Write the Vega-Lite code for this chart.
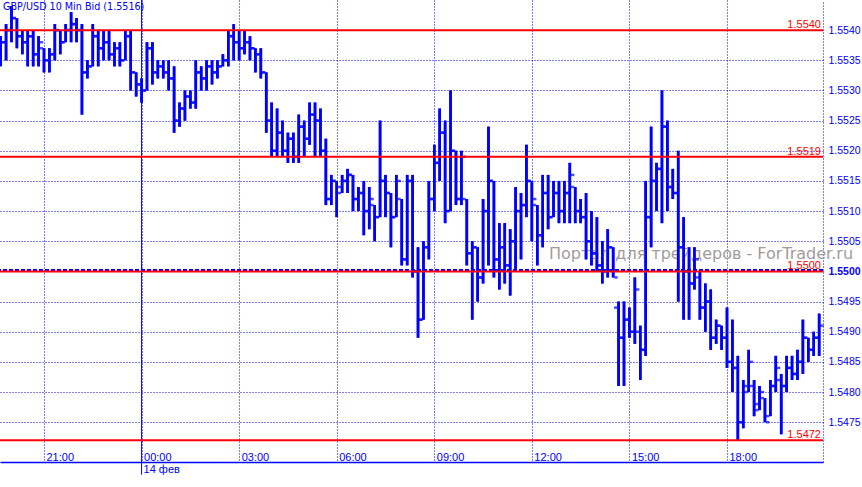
{
  "$schema": "https://vega.github.io/schema/vega-lite/v6.json",
  "width": 823,
  "height": 462,
  "autosize": "none",
  "padding": {"left": 0, "top": 0, "right": 39, "bottom": 25},
  "background": "white",
  "config": {
    "view": {"stroke": null},
    "axis": {"labelOverlap": false, "labelSeparation": 0, "labelBound": false, "labelFlush": false}
  },
  "datasets": {
    "bars": [
{"t":"2011-02-13T19:40","o":1.5535,"h":1.5539,"l":1.5534,"c":1.5538},
{"t":"2011-02-13T19:50","o":1.5538,"h":1.5541,"l":1.5535,"c":1.5540},
{"t":"2011-02-13T20:00","o":1.5540,"h":1.5544,"l":1.5538,"c":1.5542},
{"t":"2011-02-13T20:10","o":1.5542,"h":1.5542,"l":1.5537,"c":1.5539},
{"t":"2011-02-13T20:20","o":1.5539,"h":1.5540,"l":1.5536,"c":1.5538},
{"t":"2011-02-13T20:30","o":1.5538,"h":1.5540,"l":1.5534,"c":1.5539},
{"t":"2011-02-13T20:40","o":1.5539,"h":1.5540,"l":1.5534,"c":1.5536},
{"t":"2011-02-13T20:50","o":1.5536,"h":1.5539,"l":1.5534,"c":1.5538},
{"t":"2011-02-13T21:00","o":1.5537,"h":1.5537,"l":1.5533,"c":1.5535},
{"t":"2011-02-13T21:10","o":1.5535,"h":1.5537,"l":1.5533,"c":1.5536},
{"t":"2011-02-13T21:20","o":1.5536,"h":1.5541,"l":1.5535,"c":1.5540},
{"t":"2011-02-13T21:30","o":1.5540,"h":1.5540,"l":1.5536,"c":1.5538},
{"t":"2011-02-13T21:40","o":1.5538,"h":1.5541,"l":1.5538,"c":1.5540},
{"t":"2011-02-13T21:50","o":1.5540,"h":1.5543,"l":1.5538,"c":1.5541},
{"t":"2011-02-13T22:00","o":1.5541,"h":1.5542,"l":1.5538,"c":1.5540},
{"t":"2011-02-13T22:10","o":1.5540,"h":1.5541,"l":1.5526,"c":1.5533},
{"t":"2011-02-13T22:20","o":1.5533,"h":1.5535,"l":1.5532,"c":1.5534},
{"t":"2011-02-13T22:30","o":1.5534,"h":1.5541,"l":1.5534,"c":1.5539},
{"t":"2011-02-13T22:40","o":1.5539,"h":1.5540,"l":1.5534,"c":1.5537},
{"t":"2011-02-13T22:50","o":1.5537,"h":1.5540,"l":1.5535,"c":1.5538},
{"t":"2011-02-13T23:00","o":1.5538,"h":1.5540,"l":1.5535,"c":1.5536},
{"t":"2011-02-13T23:10","o":1.5536,"h":1.5538,"l":1.5534,"c":1.5537},
{"t":"2011-02-13T23:20","o":1.5537,"h":1.5538,"l":1.5534,"c":1.5535},
{"t":"2011-02-13T23:30","o":1.5535,"h":1.5540,"l":1.5535,"c":1.5539},
{"t":"2011-02-13T23:40","o":1.5539,"h":1.5540,"l":1.5530,"c":1.5533},
{"t":"2011-02-13T23:50","o":1.5533,"h":1.5533,"l":1.5529,"c":1.5531},
{"t":"2011-02-14T00:00","o":1.5531,"h":1.5532,"l":1.5528,"c":1.5530},
{"t":"2011-02-14T00:10","o":1.5530,"h":1.5538,"l":1.5530,"c":1.5537},
{"t":"2011-02-14T00:20","o":1.5537,"h":1.5538,"l":1.5531,"c":1.5533},
{"t":"2011-02-14T00:30","o":1.5533,"h":1.5535,"l":1.5532,"c":1.5534},
{"t":"2011-02-14T00:40","o":1.5534,"h":1.5535,"l":1.5532,"c":1.5533},
{"t":"2011-02-14T00:50","o":1.5533,"h":1.5535,"l":1.5530,"c":1.5532},
{"t":"2011-02-14T01:00","o":1.5532,"h":1.5534,"l":1.5523,"c":1.5525},
{"t":"2011-02-14T01:10","o":1.5525,"h":1.5528,"l":1.5524,"c":1.5527},
{"t":"2011-02-14T01:20","o":1.5527,"h":1.5530,"l":1.5525,"c":1.5529},
{"t":"2011-02-14T01:30","o":1.5529,"h":1.5530,"l":1.5527,"c":1.5528},
{"t":"2011-02-14T01:40","o":1.5528,"h":1.5535,"l":1.5527,"c":1.5533},
{"t":"2011-02-14T01:50","o":1.5533,"h":1.5534,"l":1.5530,"c":1.5532},
{"t":"2011-02-14T02:00","o":1.5532,"h":1.5535,"l":1.5530,"c":1.5534},
{"t":"2011-02-14T02:10","o":1.5534,"h":1.5535,"l":1.5531,"c":1.5533},
{"t":"2011-02-14T02:20","o":1.5533,"h":1.5535,"l":1.5532,"c":1.5534},
{"t":"2011-02-14T02:30","o":1.5534,"h":1.5536,"l":1.5534,"c":1.5535},
{"t":"2011-02-14T02:40","o":1.5535,"h":1.5540,"l":1.5534,"c":1.5539},
{"t":"2011-02-14T02:50","o":1.5539,"h":1.5541,"l":1.5535,"c":1.5538},
{"t":"2011-02-14T03:00","o":1.5538,"h":1.5540,"l":1.5535,"c":1.5537},
{"t":"2011-02-14T03:10","o":1.5537,"h":1.5540,"l":1.5536,"c":1.5538},
{"t":"2011-02-14T03:20","o":1.5538,"h":1.5539,"l":1.5535,"c":1.5537},
{"t":"2011-02-14T03:30","o":1.5537,"h":1.5537,"l":1.5533,"c":1.5536},
{"t":"2011-02-14T03:40","o":1.5536,"h":1.5537,"l":1.5532,"c":1.5533},
{"t":"2011-02-14T03:50","o":1.5533,"h":1.5533,"l":1.5523,"c":1.5525},
{"t":"2011-02-14T04:00","o":1.5525,"h":1.5528,"l":1.5519,"c":1.5520},
{"t":"2011-02-14T04:10","o":1.5520,"h":1.5527,"l":1.5519,"c":1.5523},
{"t":"2011-02-14T04:20","o":1.5523,"h":1.5525,"l":1.5519,"c":1.5520},
{"t":"2011-02-14T04:30","o":1.5520,"h":1.5523,"l":1.5518,"c":1.5522},
{"t":"2011-02-14T04:40","o":1.5522,"h":1.5523,"l":1.5518,"c":1.5519},
{"t":"2011-02-14T04:50","o":1.5519,"h":1.5526,"l":1.5518,"c":1.5524},
{"t":"2011-02-14T05:00","o":1.5524,"h":1.5525,"l":1.5519,"c":1.5522},
{"t":"2011-02-14T05:10","o":1.5522,"h":1.5528,"l":1.5521,"c":1.5526},
{"t":"2011-02-14T05:20","o":1.5526,"h":1.5528,"l":1.5519,"c":1.5525},
{"t":"2011-02-14T05:30","o":1.5525,"h":1.5527,"l":1.5519,"c":1.5520},
{"t":"2011-02-14T05:40","o":1.5520,"h":1.5522,"l":1.5511,"c":1.5512},
{"t":"2011-02-14T05:50","o":1.5512,"h":1.5516,"l":1.5511,"c":1.5515},
{"t":"2011-02-14T06:00","o":1.5515,"h":1.5515,"l":1.5509,"c":1.5513},
{"t":"2011-02-14T06:10","o":1.5514,"h":1.5516,"l":1.5513,"c":1.5515},
{"t":"2011-02-14T06:20","o":1.5515,"h":1.5517,"l":1.5513,"c":1.5516},
{"t":"2011-02-14T06:30","o":1.5516,"h":1.5516,"l":1.5510,"c":1.5512},
{"t":"2011-02-14T06:40","o":1.5512,"h":1.5514,"l":1.5510,"c":1.5513},
{"t":"2011-02-14T06:50","o":1.5513,"h":1.5515,"l":1.5506,"c":1.5510},
{"t":"2011-02-14T07:00","o":1.5510,"h":1.5514,"l":1.5507,"c":1.5512},
{"t":"2011-02-14T07:10","o":1.5511,"h":1.5511,"l":1.5505,"c":1.5509},
{"t":"2011-02-14T07:20","o":1.5509,"h":1.5525,"l":1.5509,"c":1.5515},
{"t":"2011-02-14T07:30","o":1.5515,"h":1.5516,"l":1.5509,"c":1.5513},
{"t":"2011-02-14T07:40","o":1.5513,"h":1.5513,"l":1.5504,"c":1.5509},
{"t":"2011-02-14T07:50","o":1.5509,"h":1.5516,"l":1.5509,"c":1.5515},
{"t":"2011-02-14T08:00","o":1.5512,"h":1.5512,"l":1.5501,"c":1.5502},
{"t":"2011-02-14T08:10","o":1.5502,"h":1.5516,"l":1.5501,"c":1.5515},
{"t":"2011-02-14T08:20","o":1.5515,"h":1.5516,"l":1.5499,"c":1.5500},
{"t":"2011-02-14T08:30","o":1.5500,"h":1.5504,"l":1.5489,"c":1.5492},
{"t":"2011-02-14T08:40","o":1.5492,"h":1.5505,"l":1.5492,"c":1.5504},
{"t":"2011-02-14T08:50","o":1.5504,"h":1.5515,"l":1.5502,"c":1.5512},
{"t":"2011-02-14T09:00","o":1.5512,"h":1.5521,"l":1.5510,"c":1.5518},
{"t":"2011-02-14T09:10","o":1.5518,"h":1.5527,"l":1.5515,"c":1.5523},
{"t":"2011-02-14T09:20","o":1.5523,"h":1.5525,"l":1.5508,"c":1.5510},
{"t":"2011-02-14T09:30","o":1.5510,"h":1.5530,"l":1.5510,"c":1.5520},
{"t":"2011-02-14T09:40","o":1.5520,"h":1.5520,"l":1.5511,"c":1.5512},
{"t":"2011-02-14T09:50","o":1.5512,"h":1.5520,"l":1.5511,"c":1.5519},
{"t":"2011-02-14T10:00","o":1.5512,"h":1.5512,"l":1.5501,"c":1.5503},
{"t":"2011-02-14T10:10","o":1.5503,"h":1.5505,"l":1.5492,"c":1.5504},
{"t":"2011-02-14T10:20","o":1.5504,"h":1.5504,"l":1.5495,"c":1.5499},
{"t":"2011-02-14T10:30","o":1.5499,"h":1.5512,"l":1.5498,"c":1.5510},
{"t":"2011-02-14T10:40","o":1.5510,"h":1.5524,"l":1.5501,"c":1.5515},
{"t":"2011-02-14T10:50","o":1.5515,"h":1.5515,"l":1.5499,"c":1.5502},
{"t":"2011-02-14T11:00","o":1.5502,"h":1.5508,"l":1.5497,"c":1.5504},
{"t":"2011-02-14T11:10","o":1.5504,"h":1.5508,"l":1.5498,"c":1.5501},
{"t":"2011-02-14T11:20","o":1.5501,"h":1.5507,"l":1.5496,"c":1.5505},
{"t":"2011-02-14T11:30","o":1.5505,"h":1.5514,"l":1.5500,"c":1.5510},
{"t":"2011-02-14T11:40","o":1.5510,"h":1.5513,"l":1.5502,"c":1.5511},
{"t":"2011-02-14T11:50","o":1.5511,"h":1.5521,"l":1.5509,"c":1.5515},
{"t":"2011-02-14T12:00","o":1.5515,"h":1.5515,"l":1.5505,"c":1.5512},
{"t":"2011-02-14T12:10","o":1.5511,"h":1.5511,"l":1.5501,"c":1.5506},
{"t":"2011-02-14T12:20","o":1.5506,"h":1.5516,"l":1.5504,"c":1.5513},
{"t":"2011-02-14T12:30","o":1.5513,"h":1.5516,"l":1.5507,"c":1.5509},
{"t":"2011-02-14T12:40","o":1.5509,"h":1.5515,"l":1.5509,"c":1.5513},
{"t":"2011-02-14T12:50","o":1.5513,"h":1.5515,"l":1.5508,"c":1.5510},
{"t":"2011-02-14T13:00","o":1.5510,"h":1.5515,"l":1.5508,"c":1.5513},
{"t":"2011-02-14T13:10","o":1.5513,"h":1.5518,"l":1.5508,"c":1.5516},
{"t":"2011-02-14T13:20","o":1.5514,"h":1.5514,"l":1.5508,"c":1.5510},
{"t":"2011-02-14T13:30","o":1.5510,"h":1.5512,"l":1.5508,"c":1.5509},
{"t":"2011-02-14T13:40","o":1.5509,"h":1.5513,"l":1.5502,"c":1.5505},
{"t":"2011-02-14T13:50","o":1.5505,"h":1.5510,"l":1.5501,"c":1.5503},
{"t":"2011-02-14T14:00","o":1.5503,"h":1.5509,"l":1.5500,"c":1.5501},
{"t":"2011-02-14T14:10","o":1.5501,"h":1.5505,"l":1.5498,"c":1.5500},
{"t":"2011-02-14T14:20","o":1.5500,"h":1.5507,"l":1.5499,"c":1.5504},
{"t":"2011-02-14T14:30","o":1.5504,"h":1.5504,"l":1.5499,"c":1.5499},
{"t":"2011-02-14T14:40","o":1.5494,"h":1.5495,"l":1.5481,"c":1.5489},
{"t":"2011-02-14T14:50","o":1.5489,"h":1.5495,"l":1.5481,"c":1.5492},
{"t":"2011-02-14T15:00","o":1.5492,"h":1.5494,"l":1.5489,"c":1.5490},
{"t":"2011-02-14T15:10","o":1.5490,"h":1.5499,"l":1.5488,"c":1.5497},
{"t":"2011-02-14T15:20","o":1.5490,"h":1.5491,"l":1.5482,"c":1.5487},
{"t":"2011-02-14T15:30","o":1.5487,"h":1.5515,"l":1.5486,"c":1.5509},
{"t":"2011-02-14T15:40","o":1.5509,"h":1.5524,"l":1.5504,"c":1.5515},
{"t":"2011-02-14T15:50","o":1.5515,"h":1.5518,"l":1.5510,"c":1.5517},
{"t":"2011-02-14T16:00","o":1.5517,"h":1.5530,"l":1.5508,"c":1.5524},
{"t":"2011-02-14T16:10","o":1.5524,"h":1.5525,"l":1.5510,"c":1.5514},
{"t":"2011-02-14T16:20","o":1.5514,"h":1.5517,"l":1.5512,"c":1.5513},
{"t":"2011-02-14T16:30","o":1.5513,"h":1.5520,"l":1.5495,"c":1.5504},
{"t":"2011-02-14T16:40","o":1.5504,"h":1.5509,"l":1.5492,"c":1.5500},
{"t":"2011-02-14T16:50","o":1.5500,"h":1.5504,"l":1.5492,"c":1.5498},
{"t":"2011-02-14T17:00","o":1.5498,"h":1.5504,"l":1.5497,"c":1.5502},
{"t":"2011-02-14T17:10","o":1.5499,"h":1.5500,"l":1.5492,"c":1.5494},
{"t":"2011-02-14T17:20","o":1.5494,"h":1.5498,"l":1.5490,"c":1.5495},
{"t":"2011-02-14T17:30","o":1.5495,"h":1.5497,"l":1.5487,"c":1.5489},
{"t":"2011-02-14T17:40","o":1.5489,"h":1.5492,"l":1.5488,"c":1.5491},
{"t":"2011-02-14T17:50","o":1.5491,"h":1.5491,"l":1.5487,"c":1.5489},
{"t":"2011-02-14T18:00","o":1.5489,"h":1.5494,"l":1.5484,"c":1.5485},
{"t":"2011-02-14T18:10","o":1.5485,"h":1.5492,"l":1.5480,"c":1.5484},
{"t":"2011-02-14T18:20","o":1.5484,"h":1.5486,"l":1.5472,"c":1.5475},
{"t":"2011-02-14T18:30","o":1.5475,"h":1.5482,"l":1.5474,"c":1.5480},
{"t":"2011-02-14T18:40","o":1.5481,"h":1.5487,"l":1.5480,"c":1.5485},
{"t":"2011-02-14T18:50","o":1.5481,"h":1.5482,"l":1.5476,"c":1.5477},
{"t":"2011-02-14T19:00","o":1.5478,"h":1.5481,"l":1.5477,"c":1.5480},
{"t":"2011-02-14T19:10","o":1.5479,"h":1.5479,"l":1.5475,"c":1.5475},
{"t":"2011-02-14T19:20","o":1.5476,"h":1.5482,"l":1.5476,"c":1.5481},
{"t":"2011-02-14T19:30","o":1.5481,"h":1.5486,"l":1.5480,"c":1.5484},
{"t":"2011-02-14T19:40","o":1.5482,"h":1.5483,"l":1.5473,"c":1.5481},
{"t":"2011-02-14T19:50","o":1.5481,"h":1.5486,"l":1.5480,"c":1.5484},
{"t":"2011-02-14T20:00","o":1.5484,"h":1.5486,"l":1.5482,"c":1.5483},
{"t":"2011-02-14T20:10","o":1.5483,"h":1.5487,"l":1.5482,"c":1.5485},
{"t":"2011-02-14T20:20","o":1.5485,"h":1.5492,"l":1.5483,"c":1.5489},
{"t":"2011-02-14T20:30","o":1.5489,"h":1.5489,"l":1.5485,"c":1.5487},
{"t":"2011-02-14T20:40","o":1.5487,"h":1.5490,"l":1.5486,"c":1.5489},
{"t":"2011-02-14T20:50","o":1.5489,"h":1.5493,"l":1.5486,"c":1.5491}
    ],
    "levels": [
      {"level": 1.5540, "label": "1.5540"},
      {"level": 1.5519, "label": "1.5519"},
      {"level": 1.5500, "label": "1.5500"},
      {"level": 1.5472, "label": "1.5472"}
    ],
    "texts": [
      {"title": "GBP/USD 10 Min Bid (1.5516)", "watermark": "Портал для трейдеров - ForTrader.ru", "date": "14 фев"}
    ]
  },
  "layer": [
    {
      "data": {"name": "bars"},
      "mark": {"type": "rule", "color": "#0000ff", "strokeWidth": 2.6},
      "encoding": {
        "x": {
          "field": "t", "type": "temporal",
          "scale": {"type": "time", "nice": false, "domain": [
            {"year": 2011, "month": 2, "date": 13, "hours": 19, "minutes": 38, "seconds": 50},
            {"year": 2011, "month": 2, "date": 14, "hours": 20, "minutes": 57, "seconds": 6}
          ]},
          "axis": {
            "title": null,
            "tickCount": 30,
            "values": [
              {"year": 2011, "month": 2, "date": 13, "hours": 21},
              {"year": 2011, "month": 2, "date": 14, "hours": 0},
              {"year": 2011, "month": 2, "date": 14, "hours": 3},
              {"year": 2011, "month": 2, "date": 14, "hours": 6},
              {"year": 2011, "month": 2, "date": 14, "hours": 9},
              {"year": 2011, "month": 2, "date": 14, "hours": 12},
              {"year": 2011, "month": 2, "date": 14, "hours": 15},
              {"year": 2011, "month": 2, "date": 14, "hours": 18}
            ],
            "format": "%H:%M",
            "labelAlign": "left",
            "labelBaseline": "top",
            "labelOffset": 2,
            "labelPadding": -11,
            "labelFont": "Liberation Sans",
            "labelFontSize": 11,
            "labelColor": "#0000ff",
            "labelFlush": false,
            "labelOverlap": false,
            "labelBound": false,
            "ticks": false,
            "domain": true,
            "domainColor": "#0000ff",
            "domainWidth": 1.5,
            "grid": true,
            "gridColor": "#0000ff",
            "gridWidth": 1,
            "gridOpacity": 1,
            "gridDash": [1, 2]
          }
        },
        "y": {
          "field": "l", "type": "quantitative",
          "scale": {"domain": [1.54684, 1.5545], "zero": false, "nice": false},
          "axis": {
            "title": null,
            "orient": "right",
            "tickCount": 40,
            "values": [1.5475, 1.548, 1.5485, 1.549, 1.5495, 1.55, 1.5505, 1.551, 1.5515, 1.552, 1.5525, 1.553, 1.5535, 1.554],
            "format": ".4f",
            "labelFont": "Liberation Sans",
            "labelFontSize": 10.5,
            "labelColor": "#0000ff",
            "labelFontWeight": {"condition": {"test": "abs(datum.value - 1.55) < 0.00001", "value": "bold"}, "value": "normal"},
            "labelPadding": 5,
            "labelAlign": "left",
            "labelBaseline": "middle",
            "labelFlush": false,
            "labelOverlap": false,
            "labelBound": false,
            "ticks": false,
            "domain": true,
            "domainColor": "#0000ff",
            "domainWidth": 1,
            "domainDash": [1, 2],
            "grid": true,
            "gridColor": "#0000ff",
            "gridWidth": 1,
            "gridOpacity": 1,
            "gridDash": [1, 2]
          }
        },
        "y2": {"field": "h"}
      }
    },
    {
      "data": {"name": "texts"},
      "mark": {"type": "text", "font": "DejaVu Sans", "fontSize": 16, "color": "#a39b9b", "align": "center", "baseline": "alphabetic"},
      "encoding": {
        "x": {"datum": {"year": 2011, "month": 2, "date": 14, "hours": 17, "minutes": 12}, "type": "temporal"},
        "y": {"datum": 1.55021, "type": "quantitative"},
        "text": {"field": "watermark"}
      }
    },
    {
      "data": {"name": "bars"},
      "mark": {"type": "rule", "color": "#0000ff", "strokeWidth": 2.6},
      "encoding": {
        "x": {"field": "t", "type": "temporal"},
        "y": {"field": "l", "type": "quantitative"},
        "y2": {"field": "h"}
      }
    },
    {
      "data": {"name": "bars"},
      "mark": {"type": "tick", "orient": "horizontal", "color": "#0000ff", "size": 3.5, "thickness": 2.5, "xOffset": -2.8},
      "encoding": {
        "x": {"field": "t", "type": "temporal"},
        "y": {"field": "o", "type": "quantitative"}
      }
    },
    {
      "data": {"name": "bars"},
      "mark": {"type": "tick", "orient": "horizontal", "color": "#0000ff", "size": 3.5, "thickness": 2.5, "xOffset": 2.8},
      "encoding": {
        "x": {"field": "t", "type": "temporal"},
        "y": {"field": "c", "type": "quantitative"}
      }
    },
    {
      "data": {"name": "texts"},
      "mark": {"type": "rule", "color": "#0000ff", "strokeWidth": 1},
      "encoding": {
        "x": {"datum": {"year": 2011, "month": 2, "date": 14, "hours": 0}, "type": "temporal"},
        "y": {"datum": 1.5545, "type": "quantitative"},
        "y2": {"datum": 1.54663}
      }
    },
    {
      "data": {"name": "texts"},
      "mark": {"type": "text", "color": "#0000ff", "font": "Liberation Sans", "fontSize": 11, "align": "left", "baseline": "middle", "dx": 2, "dy": 1.5},
      "encoding": {
        "x": {"datum": {"year": 2011, "month": 2, "date": 14, "hours": 0}, "type": "temporal"},
        "y": {"datum": 1.54674, "type": "quantitative"},
        "text": {"field": "date"}
      }
    },
    {
      "data": {"name": "levels"},
      "transform": [{"filter": "datum.level == 1.55"}],
      "mark": {"type": "rule", "color": "#0000ff", "strokeWidth": 2, "strokeDash": [4, 2], "yOffset": -1.5},
      "encoding": {"y": {"field": "level", "type": "quantitative"}}
    },
    {
      "data": {"name": "levels"},
      "mark": {"type": "rule", "color": "#ff0000", "strokeWidth": 2},
      "encoding": {"y": {"field": "level", "type": "quantitative"}}
    },
    {
      "data": {"name": "levels"},
      "mark": {"type": "text", "color": "#ff0000", "font": "Liberation Sans", "fontSize": 11, "align": "right", "baseline": "alphabetic", "dx": -2, "dy": -2},
      "encoding": {
        "x": {"datum": {"year": 2011, "month": 2, "date": 14, "hours": 20, "minutes": 57, "seconds": 6}, "type": "temporal"},
        "y": {"field": "level", "type": "quantitative"},
        "text": {"field": "label"}
      }
    },
    {
      "data": {"name": "texts"},
      "mark": {"type": "text", "color": "#0000ff", "font": "DejaVu Sans", "fontSize": 9.6, "align": "left", "baseline": "top", "dx": 3, "dy": 1.5},
      "encoding": {
        "x": {"datum": {"year": 2011, "month": 2, "date": 13, "hours": 19, "minutes": 38, "seconds": 50}, "type": "temporal"},
        "y": {"datum": 1.5545, "type": "quantitative"},
        "text": {"field": "title"}
      }
    }
  ]
}
